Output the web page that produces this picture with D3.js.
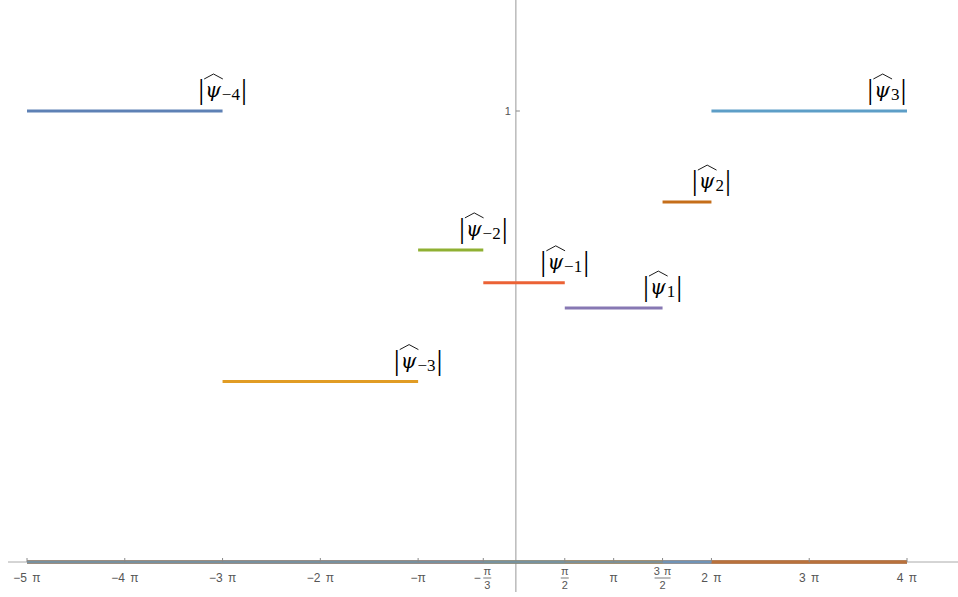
<!DOCTYPE html>
<html><head><meta charset="utf-8">
<script src="https://cdn.jsdelivr.net/npm/d3@7"></script>
<style>body{margin:0;background:#fff;} svg{display:block;}</style>
</head><body>
<svg id="c" width="958" height="597"></svg>
<script>
// Data (x in units of π)
const subscripts = ["\u22124", "\u22123", "\u22122", "\u22121", "1", "2", "3"];
const startsPi = [-5, -3, -1, -1/3, 1/2, 3/2, 2];
const endsPi   = [-3, -1, -1/3, 1/2, 3/2, 2, 4];
const heights  = [1, 0.4, 0.692, 0.619, 0.563, 0.798, 1];
const labelXPi = [-3, -1, -1/3, 1/2, 3/2, 2, 3.795];
const colors   = ["#5E81B5", "#E19C24", "#8FB032", "#EB6235", "#8778B3", "#C56E1A", "#5D9EC7"];
const tickValsPi = [-5, -4, -3, -2, -1, -1/3, 1/2, 1, 3/2, 2, 3, 4];
const tickLabels = [["\u22125 \u03C0"], ["\u22124 \u03C0"], ["\u22123 \u03C0"], ["\u22122 \u03C0"], ["\u2212\u03C0"],
  ["\u2212", "\u03C0", "3"], ["", "\u03C0", "2"], ["\u03C0"], ["", "3 \u03C0", "2"], ["2 \u03C0"], ["3 \u03C0"], ["4 \u03C0"]];
const yTicks = [1];
const domainPi = [-5, 4];

const PI = Math.PI;
const svg = d3.select("#c");
const x = d3.scaleLinear().domain(domainPi.map(d => d * PI)).range([27, 907]);
const y = d3.scaleLinear().domain([0, 1]).range([562, 111]);
const textColor = "#555";
const sans = "Liberation Sans, Arial, sans-serif";

// axes lines
svg.append("line").attr("x1", 8).attr("x2", 958).attr("y1", y(0)).attr("y2", y(0))
  .attr("stroke", "#aaa").attr("stroke-width", 1);
svg.append("line").attr("x1", x(0)).attr("x2", x(0)).attr("y1", 0).attr("y2", 592)
  .attr("stroke", "#999").attr("stroke-width", 1);

// zero parts of each piecewise function
const zg = svg.append("g");
subscripts.forEach((s, i) => {
  const parts = [];
  if (startsPi[i] > domainPi[0]) parts.push([domainPi[0], startsPi[i]]);
  if (endsPi[i] < domainPi[1]) parts.push([endsPi[i], domainPi[1]]);
  parts.forEach(p => {
    zg.append("line").attr("x1", x(p[0] * PI)).attr("x2", x(p[1] * PI))
      .attr("y1", y(0)).attr("y2", y(0))
      .attr("stroke", colors[i]).attr("stroke-width", 3).attr("stroke-opacity", 0.7);
  });
});

// x ticks
const xt = svg.append("g");
tickValsPi.forEach((v, i) => {
  const px = x(v * PI);
  xt.append("line").attr("x1", px).attr("x2", px).attr("y1", y(0)).attr("y2", y(0) - 4)
    .attr("stroke", "#888").attr("stroke-width", 1);
  const lab = tickLabels[i];
  if (lab.length === 1) {
    xt.append("text").attr("x", px).attr("y", 582).attr("text-anchor", "middle")
      .attr("font-family", sans).attr("font-size", 12).attr("word-spacing", 2)
      .attr("fill", textColor).text(lab[0]);
  } else {
    const g = xt.append("g").attr("transform", `translate(${px},0)`);
    const fx = lab[0] ? 4 : 0;
    if (lab[0]) g.append("text").attr("x", -6).attr("y", 582).attr("text-anchor", "middle")
      .attr("font-family", sans).attr("font-size", 12)
      .attr("fill", textColor).text(lab[0]);
    g.append("text").attr("x", fx).attr("y", 575).attr("text-anchor", "middle")
      .attr("font-family", sans).attr("font-size", 11).attr("word-spacing", 1)
      .attr("fill", textColor).text(lab[1]);
    const w = lab[1].length > 1 ? 8 : 4;
    g.append("line").attr("x1", fx - w).attr("x2", fx + w).attr("y1", 578).attr("y2", 578)
      .attr("stroke", textColor).attr("stroke-width", 0.8);
    g.append("text").attr("x", fx).attr("y", 589).attr("text-anchor", "middle")
      .attr("font-family", sans).attr("font-size", 11)
      .attr("fill", textColor).text(lab[2]);
  }
});

// y ticks
yTicks.forEach(v => {
  svg.append("line").attr("x1", x(0)).attr("x2", x(0) + 4).attr("y1", y(v)).attr("y2", y(v))
    .attr("stroke", "#888");
  svg.append("text").attr("x", x(0) - 5).attr("y", y(v) + 4).attr("text-anchor", "end")
    .attr("font-family", sans).attr("font-size", 11)
    .attr("fill", textColor).text(d3.format("d")(v));
});

// segments
subscripts.forEach((s, i) => {
  svg.append("line").attr("x1", x(startsPi[i] * PI)).attr("x2", x(endsPi[i] * PI))
    .attr("y1", y(heights[i])).attr("y2", y(heights[i]))
    .attr("stroke", colors[i]).attr("stroke-width", 3);
});

// labels
subscripts.forEach((s, i) => {
  const cx = x(labelXPi[i] * PI);
  const base = y(heights[i]) - 12;
  const g = svg.append("g");
  const serif = "DejaVu Serif, serif";
  const b1 = g.append("text").attr("font-family", "Liberation Serif, serif").attr("font-size", 30).attr("fill", "#000")
    .attr("y", base).text("|");
  const w1 = b1.node().getComputedTextLength();
  const psi = g.append("text").attr("font-family", serif).attr("font-size", 20).attr("font-style", "italic")
    .attr("fill", "#000").attr("x", w1 + 1).attr("y", base - 2).text("\u03C8");
  const wp = psi.node().getComputedTextLength();
  const sub = g.append("text").attr("font-family", "Liberation Serif, serif").attr("font-size", 17).attr("fill", "#000")
    .attr("x", w1 + 1 + wp + 1).attr("y", base + 1).text(s);
  const ws = sub.node().getComputedTextLength();
  const b2 = g.append("text").attr("font-family", "Liberation Serif, serif").attr("font-size", 30).attr("fill", "#000")
    .attr("x", w1 + 1 + wp + 1 + ws + 1).attr("y", base).text("|");
  const total = w1 + 1 + wp + 1 + ws + 1 + b2.node().getComputedTextLength();
  // wide hat over psi
  const hx0 = w1, hx1 = w1 + 1 + wp + 2, hy = base - 25;
  g.append("path").attr("d", `M${hx0},${hy + 5} L${(hx0 + hx1) / 2},${hy} L${hx1},${hy + 5}`)
    .attr("fill", "none").attr("stroke", "#000").attr("stroke-width", 0.9);
  g.attr("transform", `translate(${cx - total / 2},0)`);
});
</script>
</body></html>
